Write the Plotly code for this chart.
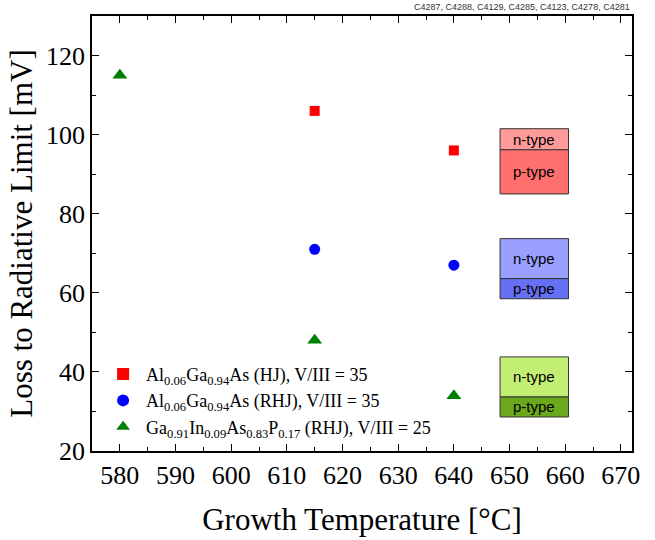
import plotly.graph_objects as go

# Data
hj_T = [615, 640]
hj_loss = [106, 96]
rhj_T = [615, 640]
rhj_loss = [71, 67]
gainasp_T = [580, 615, 640]
gainasp_loss = [115, 48, 34]

names = [
    "Al<sub>0.06</sub>Ga<sub>0.94</sub>As (HJ), V/III = 35",
    "Al<sub>0.06</sub>Ga<sub>0.94</sub>As (RHJ), V/III = 35",
    "Ga<sub>0.91</sub>In<sub>0.09</sub>As<sub>0.83</sub>P<sub>0.17</sub> (RHJ), V/III = 25",
]

# doping boxes: (bottom, divider, top) in mV
box_x = [648.3, 660.6]
red_box = [85.0, 96.2, 101.5]
blue_box = [58.5, 63.6, 73.7]
green_box = [28.6, 33.7, 43.8]
box_colors = {
    "red": ("#FF6F6F", "#FF9A9A"),
    "blue": ("#6670F5", "#9AA0FF"),
    "green": ("#6BA81C", "#C2EE74"),
}

SERIF = "Liberation Serif"
SANS = "Liberation Sans"

fig = go.Figure()
fig.add_trace(go.Scatter(x=hj_T, y=hj_loss, mode="markers", name=names[0],
                         marker=dict(symbol="square", size=10, color="#FF0000")))
fig.add_trace(go.Scatter(x=rhj_T, y=rhj_loss, mode="markers", name=names[1],
                         marker=dict(symbol="circle", size=11, color="#0000FF")))
fig.add_trace(go.Scatter(x=gainasp_T, y=gainasp_loss, mode="markers", name=names[2],
                         marker=dict(symbol="triangle-up", size=13, color="#008000")))

for key, box in (("red", red_box), ("blue", blue_box), ("green", green_box)):
    pcol, ncol = box_colors[key]
    b, d, t = box
    fig.add_shape(type="rect", x0=box_x[0], x1=box_x[1], y0=b, y1=d,
                  fillcolor=pcol, line=dict(color="#333333", width=1), layer="above")
    fig.add_shape(type="rect", x0=box_x[0], x1=box_x[1], y0=d, y1=t,
                  fillcolor=ncol, line=dict(color="#333333", width=1), layer="above")
    xm = (box_x[0] + box_x[1]) / 2
    fig.add_annotation(x=xm, y=(b + d) / 2, text="p-type", showarrow=False,
                       font=dict(family=SANS, size=15, color="black"))
    fig.add_annotation(x=xm, y=(d + t) / 2, text="n-type", showarrow=False,
                       font=dict(family=SANS, size=15, color="black"))

fig.add_annotation(xref="paper", yref="paper", x=1.0, y=1.0, yanchor="bottom",
                   xanchor="right", yshift=2,
                   text="C4287, C4288, C4129, C4285, C4123, C4278, C4281",
                   showarrow=False, font=dict(family=SANS, size=9, color="#333333"))

axis_common = dict(showline=True, linecolor="black", linewidth=1.5, mirror="ticks",
                   ticks="inside", ticklen=7, tickwidth=1, tickcolor="black",
                   showgrid=False, zeroline=False, automargin=False,
                   tickfont=dict(family=SERIF, size=26, color="black"))

fig.update_xaxes(range=[575, 672], tick0=580, dtick=10,
                 minor=dict(ticks="inside", ticklen=4, dtick=5, tickcolor="black"),
                 title=dict(text="Growth Temperature [°C]",
                            font=dict(family=SERIF, size=31, color="black"),
                            standoff=19),
                 **axis_common)
fig.update_yaxes(range=[20, 130], tick0=20, dtick=20,
                 minor=dict(ticks="inside", ticklen=4, dtick=10, tickcolor="black"),
                 title=dict(text="Loss to Radiative Limit [mV]",
                            font=dict(family=SERIF, size=31, color="black"),
                            standoff=4),
                 **axis_common)

fig.update_layout(
    width=655, height=540,
    margin=dict(l=92, r=23, t=16, b=89, autoexpand=False),
    plot_bgcolor="white", paper_bgcolor="white",
    font=dict(family=SERIF, color="black"),
    showlegend=True,
    legend=dict(x=0.015, y=0.012, xanchor="left", yanchor="bottom",
                bgcolor="rgba(0,0,0,0)", tracegroupgap=0, itemwidth=36,
                font=dict(family=SERIF, size=18, color="black"),
                itemsizing="constant"),
)

fig.write_html("out.html", config={"displayModeBar": False},
               post_script="document.body.style.margin='0px';")
